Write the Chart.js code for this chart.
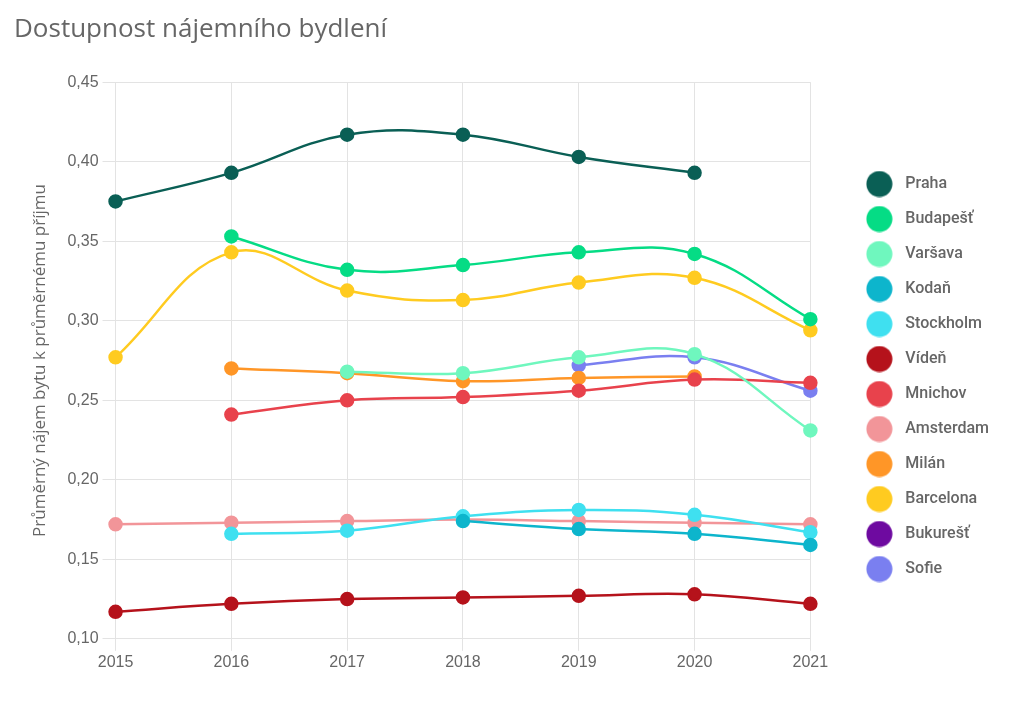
<!DOCTYPE html>
<html>
<head>
<meta charset="utf-8">
<script src="https://cdn.jsdelivr.net/npm/chart.js@4"></script>
<style>
  html, body { margin: 0; padding: 0; background: #fff; }
  #wrap { width: 1024px; height: 707px; }
</style>
</head>
<body>
<div id="wrap"><canvas id="myChart"></canvas></div>
<script>
const years = ["2015", "2016", "2017", "2018", "2019", "2020", "2021"];

const praha = [0.375, 0.393, 0.417, 0.417, 0.403, 0.393, null];
const budapest = [null, 0.353, 0.332, 0.335, 0.343, 0.342, 0.301];
const varsava = [null, null, 0.268, 0.267, 0.277, 0.279, 0.231];
const kodan = [null, null, null, 0.174, 0.169, 0.166, 0.159];
const stockholm = [null, 0.166, 0.168, 0.177, 0.181, 0.178, 0.167];
const viden = [0.117, 0.122, 0.125, 0.126, 0.127, 0.128, 0.122];
const mnichov = [null, 0.241, 0.250, 0.252, 0.256, 0.263, 0.261];
const amsterdam = [0.172, 0.173, 0.174, 0.175, 0.174, 0.173, 0.172];
const milan = [null, 0.270, 0.267, 0.262, 0.264, 0.265, null];
const barcelona = [0.277, 0.343, 0.319, 0.313, 0.324, 0.327, 0.294];
const bukurest = [null, null, null, null, null, null, null];
const sofie = [null, null, null, null, 0.272, 0.277, 0.256];

const yTicks = [0.10, 0.15, 0.20, 0.25, 0.30, 0.35, 0.40, 0.45];

function series(label, data, color) {
  return {
    label: label,
    data: data,
    borderColor: color,
    backgroundColor: color,
    pointBackgroundColor: color,
    pointBorderColor: color,
    borderWidth: 2.5,
    pointRadius: 6,
    pointHoverRadius: 7,
    tension: 0.4,
    fill: false,
  };
}

// big round legend markers
function dot(color) {
  const c = document.createElement("canvas");
  c.width = 27;
  c.height = 27;
  const g = c.getContext("2d");
  g.fillStyle = color;
  g.beginPath();
  g.arc(13.5, 13.5, 13, 0, Math.PI * 2);
  g.fill();
  return c;
}

const ctx = document.getElementById("myChart");

new Chart(ctx, {
  type: "line",
  data: {
    labels: years,
    datasets: [
      series("Praha", praha, "#0a5f55"),
      series("Budapešť", budapest, "#05dc85"),
      series("Varšava", varsava, "#6ff7be"),
      series("Kodaň", kodan, "#0db5cc"),
      series("Stockholm", stockholm, "#3fe0f0"),
      series("Vídeň", viden, "#b5121b"),
      series("Mnichov", mnichov, "#e8424c"),
      series("Amsterdam", amsterdam, "#f29599"),
      series("Milán", milan, "#ff9627"),
      series("Barcelona", barcelona, "#ffcb20"),
      series("Bukurešť", bukurest, "#6e0aa0"),
      series("Sofie", sofie, "#7a7ff0"),
    ],
  },
  options: {
    responsive: true,
    maintainAspectRatio: false,
    animation: false,
    layout: {
      padding: { left: 14, right: 25, top: 0, bottom: 33 },
    },
    plugins: {
      title: {
        display: true,
        text: "Dostupnost nájemního bydlení",
        align: "start",
        color: "#666",
        font: { family: "'Open Sans'", size: 26, weight: "normal" },
        padding: { top: 14, bottom: 37 },
      },
      legend: {
        position: "right",
        title: {
          display: true,
          text: " ",
          font: { size: 10 },
          padding: { top: 67, bottom: 0 },
        },
        labels: {
          usePointStyle: true,
          pointStyleWidth: 36,
          padding: 19,
          color: "#666",
          font: { family: "Roboto", size: 16, weight: "500" },
          generateLabels: (chart) => {
            const items = Chart.defaults.plugins.legend.labels.generateLabels(chart);
            items.forEach((it) => {
              it.pointStyle = dot(chart.data.datasets[it.datasetIndex].borderColor);
            });
            return items;
          },
        },
      },
      tooltip: { enabled: false },
    },
    scales: {
      x: {
        grid: { color: "#e3e3e3", tickLength: 12 },
        border: { color: "#e3e3e3" },
        ticks: {
          color: "#666",
          font: { family: "'Liberation Sans'", size: 16 },
          padding: 2,
        },
      },
      y: {
        min: 0.1,
        max: 0.45,
        afterBuildTicks: (axis) => {
          axis.ticks = yTicks.map((v) => ({ value: v }));
        },
        grid: { color: "#e3e3e3", tickLength: 13 },
        border: { color: "#e3e3e3" },
        ticks: {
          color: "#666",
          font: { family: "'Liberation Sans'", size: 16 },
          padding: 4,
          callback: (v) => Number(v).toFixed(2).replace(".", ","),
        },
        title: {
          display: true,
          text: "Průměrný nájem bytu k průměrnému příjmu",
          color: "#666",
          font: { family: "'Open Sans'", size: 17 },
          padding: { top: 16, bottom: 13 },
        },
      },
      // empty space between plot and legend
      gap: {
        position: "right",
        grid: { display: false },
        border: { display: false },
        ticks: { display: false },
        afterFit: (s) => {
          s.width = 32;
        },
      },
    },
  },
});
</script>
</body>
</html>
